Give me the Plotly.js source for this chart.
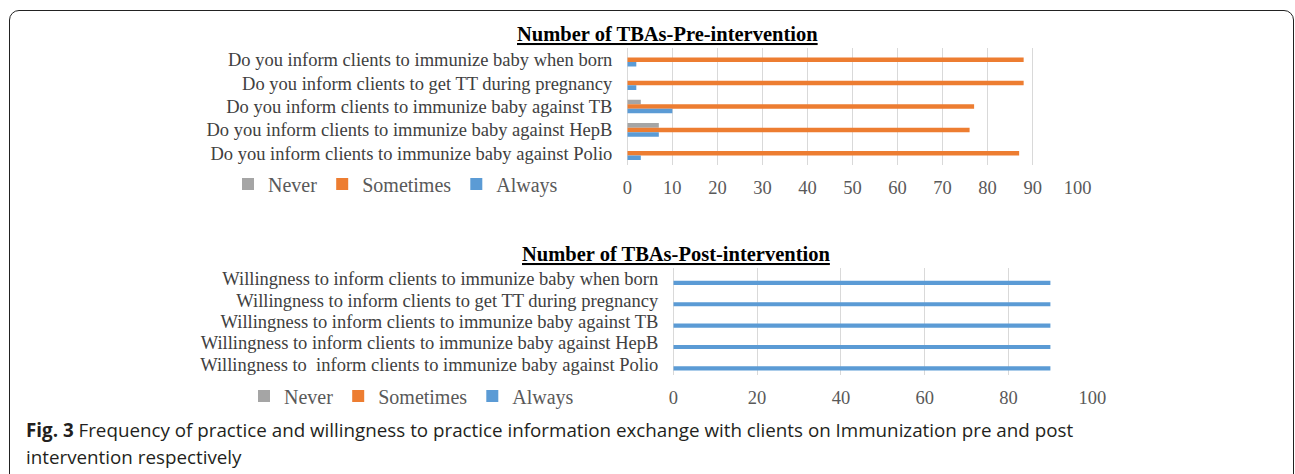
<!DOCTYPE html>
<html><head><meta charset="utf-8">
<script src="https://cdn.plot.ly/plotly-3.0.1.min.js"></script>
<style>
html,body{margin:0;padding:0;background:#fff;overflow:hidden;width:1295px;height:474px}
#chart{position:absolute;left:0;top:0;width:1295px;height:474px}
#frame{position:absolute;left:9px;top:10px;width:1285px;height:520px;border:1.6px solid #222;border-radius:10px;box-sizing:border-box;pointer-events:none}
</style></head><body>
<div id="chart"></div><div id="frame"></div>
<script>
const preCategories = [
  "Do you inform clients to immunize baby when born",
  "Do you inform clients to get TT during pregnancy",
  "Do you inform clients to immunize baby against TB",
  "Do you inform clients to immunize baby against HepB",
  "Do you inform clients to immunize baby against Polio"
];
const preNever = [0, 0, 3, 7, 0];
const preSometimes = [88, 88, 77, 76, 87];
const preAlways = [2, 2, 10, 7, 3];

const postCategories = [
  "Willingness to inform clients to immunize baby when born",
  "Willingness to inform clients to get TT during pregnancy",
  "Willingness to inform clients to immunize baby against TB",
  "Willingness to inform clients to immunize baby against HepB",
  "Willingness to  inform clients to immunize baby against Polio"
];
const postNever = [0, 0, 0, 0, 0];
const postSometimes = [0, 0, 0, 0, 0];
const postAlways = [90, 90, 90, 90, 90];

const seriesNames = ["Never", "Sometimes", "Always"];
const seriesColors = ["#a5a5a5", "#ed7d31", "#5b9bd5"];
const preTitle = "Number of TBAs-Pre-intervention";
const postTitle = "Number of TBAs-Post-intervention";
const captionBold = "Fig. 3";
const captionLine1 = "Frequency of practice and willingness to practice information exchange with clients on Immunization pre and post";
const captionLine2 = "intervention respectively";

const W = 1295, H = 474;
const px = v => v / W;
const py = v => 1 - v / H;
const serif = "Liberation Serif, Times New Roman, serif";

const preVals = [preNever, preSometimes, preAlways];
const postVals = [postNever, postSometimes, postAlways];
const traces = [];
seriesNames.forEach((n, i) => {
  traces.push({type: 'bar', orientation: 'h', name: n, x: preVals[i], y: preCategories,
    xaxis: 'x', yaxis: 'y', marker: {color: seriesColors[i]}, legend: 'legend', hoverinfo: 'x+y'});
});
seriesNames.forEach((n, i) => {
  traces.push({type: 'bar', orientation: 'h', name: n, x: postVals[i], y: postCategories,
    xaxis: 'x2', yaxis: 'y2', marker: {color: seriesColors[i]}, legend: 'legend2', hoverinfo: 'x+y'});
});

const xCommon = {range: [0, 100], showgrid: true, gridcolor: '#d9d9d9', gridwidth: 1,
  zeroline: true, zerolinecolor: '#d9d9d9', zerolinewidth: 1, showline: false, ticks: '',
  tickfont: {family: serif, size: 18.5, color: '#595959'}, ticklabelstandoff: 9, fixedrange: true};
const yCommon = {showgrid: false, zeroline: false, showline: false, ticks: '', autorange: 'reversed',
  type: 'category', tickmode: 'linear', tick0: 0, dtick: 1,
  tickfont: {family: serif, size: 18.5, color: '#404040'}, ticklabelstandoff: 14, fixedrange: true};

const layout = {
  width: W, height: H, margin: {l: 0, r: 0, t: 0, b: 0},
  paper_bgcolor: '#fff', plot_bgcolor: 'rgba(0,0,0,0)',
  barmode: 'group', bargap: 0.42, bargroupgap: 0,
  font: {family: serif, color: '#404040'},
  xaxis: Object.assign({}, xCommon, {domain: [px(627.3), px(1077.7)], anchor: 'y', dtick: 10}),
  yaxis: Object.assign({}, yCommon, {domain: [py(165), py(48)], anchor: 'x'}),
  xaxis2: Object.assign({}, xCommon, {domain: [px(673.3), px(1092.3)], anchor: 'y2', dtick: 20}),
  yaxis2: Object.assign({}, yCommon, {domain: [py(375), py(268)], anchor: 'x2'}),
  legend: {orientation: 'h', x: px(228), xanchor: 'left', y: py(184), yanchor: 'middle',
    font: {family: serif, size: 20, color: '#595959'}, bgcolor: 'rgba(0,0,0,0)', traceorder: 'normal'},
  legend2: {orientation: 'h', x: px(244), xanchor: 'left', y: py(396), yanchor: 'middle',
    font: {family: serif, size: 20, color: '#595959'}, bgcolor: 'rgba(0,0,0,0)', traceorder: 'normal'},
  annotations: [
    {xref: 'paper', yref: 'paper', x: px(667), y: py(34), xanchor: 'center', yanchor: 'middle', showarrow: false,
      text: '<b><u>' + preTitle + '</u></b>', font: {family: serif, size: 20.5, color: '#000'}},
    {xref: 'paper', yref: 'paper', x: px(676), y: py(254), xanchor: 'center', yanchor: 'middle', showarrow: false,
      text: '<b><u>' + postTitle + '</u></b>', font: {family: serif, size: 20.5, color: '#000'}},
    {xref: 'paper', yref: 'paper', x: px(24), y: py(430), xanchor: 'left', yanchor: 'middle', showarrow: false,
      text: '<b>' + captionBold + '</b> ' + captionLine1, font: {family: 'Open Sans, sans-serif', size: 18.8, color: '#231f20'}},
    {xref: 'paper', yref: 'paper', x: px(24), y: py(457), xanchor: 'left', yanchor: 'middle', showarrow: false,
      text: captionLine2, font: {family: 'Open Sans, sans-serif', size: 18.8, color: '#231f20'}}
  ]
};

Plotly.newPlot('chart', traces, layout, {displayModeBar: false, staticPlot: true});
</script>
</body></html>
